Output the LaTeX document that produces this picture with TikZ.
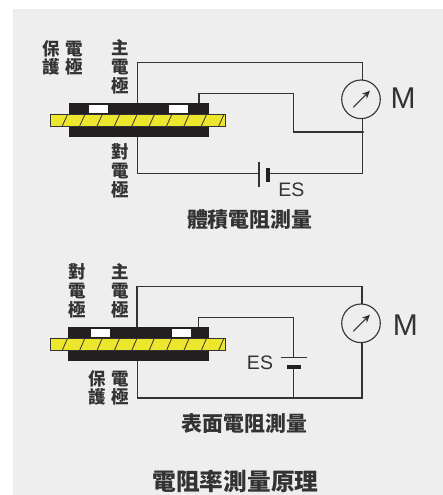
\documentclass[tikz,border=0pt]{standalone}
\usepackage{xcolor}
\usepackage{fontspec}
\setmainfont{Liberation Sans}
\newfontfamily\cjk{Noto Sans CJK TC}[BoldFont={Noto Sans CJK TC Black}]
\usetikzlibrary{arrows.meta}
\definecolor{panelgray}{HTML}{EEEEEE}
\definecolor{elecblack}{HTML}{231F20}
\definecolor{sheetyellow}{HTML}{ECE62C}
\definecolor{wiregray}{HTML}{333333}
\tikzset{
    wire/.style={draw=wiregray, line width=1.1pt, line join=miter},
    electrode/.style={fill=elecblack, draw=none, inner sep=0pt, outer sep=0pt, minimum width=140.5pt, minimum height=11pt},
    gapbox/.style={fill=white, draw=none, inner sep=0pt, outer sep=0pt, minimum width=19pt, minimum height=8.6pt},
    sheet/.style={fill=sheetyellow, draw=wiregray, line width=1pt, inner sep=0pt, outer sep=0pt, minimum width=174.5pt, minimum height=12pt},
    meter/.style={circle, draw=wiregray, line width=1.1pt, inner sep=0pt, outer sep=0pt, minimum size=38.6pt},
    stack/.style={font=\cjk\bfseries\fontsize{17.5}{18.7}\selectfont, text=wiregray, align=center, inner sep=0pt},
    caption/.style={font=\cjk\bfseries\fontsize{20.9}{24}\selectfont, text=wiregray, inner sep=0pt},
    symb/.style={font=\fontsize{30}{32}\selectfont, text=wiregray, inner sep=0pt},
    symbs/.style={font=\fontsize{19.5}{21}\selectfont, text=wiregray, inner sep=0pt}
}
\begin{document}
\begin{tikzpicture}[x=1pt,y=-1pt]
    \useasboundingbox (0,0) rectangle (443,495);
    \fill[panelgray] (13,9) rectangle (443,495);

    % volume resistance
    \node[electrode] (topa) at (139.2,108.8) {};
    \node[gapbox] (gapa1) at (98.2,109) {};
    \node[gapbox] (gapa2) at (178.8,109) {};
    \node[electrode] (bota) at (139.2,131.3) {};
    \node[sheet] (sheeta) at (138,120.2) {};
    \foreach \i in {0,...,9} {
        \draw[wiregray, line width=.8pt] (62.3+17.38*\i,126) -- (67.6+17.38*\i,114.3);
    }
    \node[meter] (metera) at (361,99.3) {};
    \draw[wiregray, line width=1.1pt, -{Stealth[length=8pt,width=7pt]}] (353.3,107.3) -- (370,90.7);
    \coordinate (joina) at (362.5,132);
    \draw[wire] (137.3,103.3) |- (362.5,62.7) -- (362.5,80);
    \draw[wire] (199,103.3) |- (293.7,93.7) |- (joina);
    \draw[wire] (362.5,118.6) -- (joina);
    \fill[wiregray] (joina) circle (1.5pt);
    \draw[wire] (137.7,136.8) |- (259,173.7);
    \draw[wire] (259,161.7) -- (259,187.3);
    \fill[elecblack] (266,167.7) rectangle (270,182);
    \draw[wire] (270,173.7) -| (joina);
    \node[symb] (ma) at (403,98) {M};
    \node[symbs] (esa) at (291.3,189.3) {ES};
    \node[stack] (baohua) at (51.3,58) {保\\護};
    \node[stack] (dianjia) at (74.7,58) {電\\極};
    \node[stack] (zhua) at (120.5,66.7) {主\\電\\極};
    \node[stack] (duia) at (120.7,171) {對\\電\\極};
    \node[caption] (capa) at (249.7,220) {體積電阻測量};

    % surface resistance
    \node[electrode] (topb) at (138.7,332.6) {};
    \node[gapbox] (gapb1) at (100.6,333) {};
    \node[gapbox] (gapb2) at (181.5,333) {};
    \node[electrode] (botb) at (138.7,355.4) {};
    \node[sheet] (sheetb) at (137.8,344.2) {};
    \foreach \i in {0,...,9} {
        \draw[wiregray, line width=.8pt] (62.3+17.38*\i,350.3) -- (67.6+17.38*\i,338);
    }
    \node[meter] (meterb) at (361,323.3) {};
    \draw[wiregray, line width=1.1pt, -{Stealth[length=8pt,width=7pt]}] (353.3,331.3) -- (370,314.7);
    \coordinate (joinb) at (293.3,398);
    \draw[wire] (137,327.3) |- (362,286.7) -- (362,304);
    \draw[wire] (198.7,327.3) |- (293.3,317.7) -- (293.3,357.3);
    \draw[wire] (280.7,357.3) -- (307,357.3);
    \fill[elecblack] (286.7,365) rectangle (300.7,368.7);
    \draw[wire] (293.3,368.7) -- (joinb);
    \fill[wiregray] (joinb) circle (1.2pt);
    \draw[wire] (362,342.6) |- (137.5,398) -- (137.5,360.9);
    \node[symb] (mb) at (405.3,325) {M};
    \node[symbs] (esb) at (260,363) {ES};
    \node[stack] (duib) at (77.7,290.7) {對\\電\\極};
    \node[stack] (zhub) at (120.7,290.7) {主\\電\\極};
    \node[stack] (baohub) at (97.3,388) {保\\護};
    \node[stack] (dianjib) at (120.7,388) {電\\極};
    \node[caption] (capb) at (244.2,424) {表面電阻測量};

    \node[caption, font=\cjk\bfseries\fontsize{23.7}{26}\selectfont] (title) at (235.5,481) {電阻率測量原理};
\end{tikzpicture}
\end{document}
